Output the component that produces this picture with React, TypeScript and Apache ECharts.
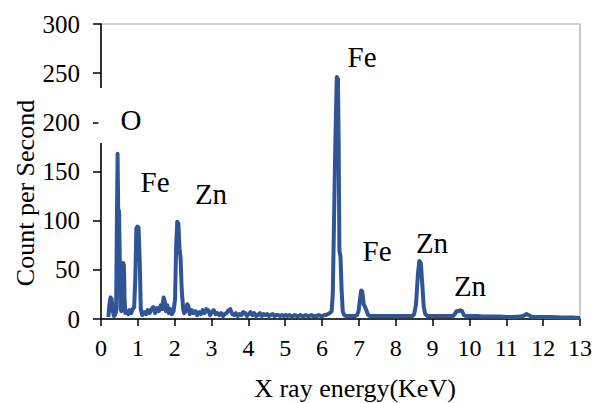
import React, { useEffect, useRef } from "react";
import * as echarts from "echarts";

const energy: number[] = [
  0.2, 0.23, 0.26, 0.29, 0.32, 0.35, 0.38, 0.41, 0.43, 0.45, 0.47, 0.49, 0.51, 0.53, 0.55, 0.58, 0.6, 0.62, 0.64, 0.66,
  0.7, 0.74, 0.78, 0.82, 0.86, 0.9, 0.93, 0.96, 0.99, 1.02, 1.05, 1.08, 1.12, 1.18, 1.22, 1.27, 1.32, 1.37, 1.42, 1.47,
  1.52, 1.57, 1.62, 1.66, 1.7, 1.73, 1.76, 1.8, 1.84, 1.88, 1.92, 1.97, 2.01, 2.04, 2.07, 2.1, 2.13, 2.16, 2.19, 2.23,
  2.26, 2.3, 2.34, 2.37, 2.41, 2.46, 2.51, 2.56, 2.61, 2.66, 2.71, 2.76, 2.81, 2.86, 2.91, 2.96, 3.01, 3.06, 3.11, 3.16,
  3.21, 3.26, 3.31, 3.36, 3.41, 3.46, 3.51, 3.56, 3.61, 3.66, 3.71, 3.76, 3.81, 3.86, 3.91, 3.96, 4.01, 4.06, 4.11, 4.16,
  4.21, 4.26, 4.31, 4.36, 4.41, 4.46, 4.51, 4.56, 4.61, 4.66, 4.71, 4.76, 4.81, 4.86, 4.91, 4.96, 5.01, 5.06, 5.11, 5.16,
  5.21, 5.26, 5.31, 5.36, 5.41, 5.46, 5.51, 5.56, 5.61, 5.66, 5.71, 5.76, 5.81, 5.86, 5.91, 5.96, 6.01, 6.06, 6.11, 6.16,
  6.21, 6.26, 6.29, 6.32, 6.35, 6.38, 6.4, 6.43, 6.45, 6.47, 6.5, 6.53, 6.56, 6.6, 6.65, 6.7, 6.75, 6.8, 6.85, 6.9,
  6.95, 6.99, 7.03, 7.06, 7.09, 7.13, 7.17, 7.2, 7.25, 7.3, 7.4, 7.5, 7.6, 7.7, 7.8, 7.9, 8.0, 8.1, 8.2, 8.3,
  8.4, 8.45, 8.5, 8.55, 8.6, 8.64, 8.68, 8.72, 8.76, 8.8, 8.86, 8.95, 9.05, 9.15, 9.25, 9.35, 9.45, 9.55, 9.6, 9.65,
  9.7, 9.75, 9.8, 9.85, 9.9, 10.0, 10.2, 10.4, 10.6, 10.8, 11.0, 11.2, 11.4, 11.5, 11.55, 11.6, 11.7, 11.9, 12.2, 12.5,
  12.8, 13.0,
];

const counts: number[] = [
  2, 15, 22, 20, 8, 3, 4, 8, 95, 168, 100, 110, 60, 10, 8, 45, 57, 55, 20, 6,
  8, 5, 9, 6, 10, 12, 40, 92, 94, 93, 60, 10, 4, 7, 5, 9, 6, 10, 12, 6,
  11, 8, 14, 10, 22, 18, 8, 14, 6, 10, 5, 8, 20, 75, 99, 97, 72, 62, 30, 10,
  6, 8, 15, 13, 5, 9, 6, 8, 4, 7, 5, 9, 6, 10, 9, 4, 7, 9, 5, 6,
  4, 6, 3, 5, 6, 9, 10, 5, 4, 6, 3, 5, 4, 7, 6, 3, 5, 7, 4, 6,
  3, 4, 6, 3, 5, 4, 5, 3, 4, 5, 3, 4, 4, 3, 4, 3, 4, 3, 4, 3,
  3, 4, 3, 3, 4, 3, 3, 4, 3, 3, 4, 3, 3, 3, 4, 3, 3, 4, 4, 5,
  6, 8, 25, 90, 160, 215, 246, 244, 180, 70, 63, 30, 8, 4, 3, 3, 3, 3, 3, 3,
  4, 8, 20, 29, 28, 15, 12, 9, 4, 3, 3, 3, 3, 3, 3, 3, 3, 3, 3, 3,
  3, 3, 5, 15, 45, 59, 57, 35, 12, 5, 3, 3, 3, 3, 3, 3, 3, 3, 5, 8,
  8, 9, 8, 4, 3, 3, 3, 2.5, 2.5, 2.5, 2, 2, 2.5, 4, 5, 4, 2, 2, 2, 1.5,
  1.5, 1,
];

const yTicks: number[] = [0, 50, 100, 150, 200, 250, 300];
const xTicks: number[] = [0, 1, 2, 3, 4, 5, 6, 7, 8, 9, 10, 11, 12, 13];

const peakLabels: string[] = ["O", "Fe", "Zn", "Fe", "Fe", "Zn", "Zn"];

const FONT = "Times New Roman, Tinos, Liberation Serif, DejaVu Serif, Noto Serif, serif";

export default function App() {
  const ref = useRef<HTMLDivElement>(null);

  useEffect(() => {
    if (!ref.current) return;
    const chart = echarts.init(ref.current, undefined, { renderer: "svg" });
    const labelPos: [number, number][] = [
      [131, 120],
      [155, 182],
      [211, 194],
      [362, 57],
      [377, 251],
      [432, 243],
      [470, 286],
    ];
    const textStyle = (size: number) => ({
      fill: "#000",
      fontSize: size,
      fontFamily: FONT,
      align: "center",
      verticalAlign: "middle",
    });
    chart.setOption({
      animation: false,
      backgroundColor: "#ffffff",
      textStyle: { fontFamily: FONT },
      grid: {
        left: 101,
        top: 24,
        right: 12,
        bottom: 84,
        show: true,
        borderColor: "#a6a6a6",
        borderWidth: 1.2,
        backgroundColor: "transparent",
      },
      xAxis: {
        type: "value",
        min: xTicks[0],
        max: xTicks[xTicks.length - 1],
        interval: 1,
        axisLine: { show: true, lineStyle: { color: "#000", width: 1.5 } },
        axisTick: { show: true, length: 7, lineStyle: { color: "#000", width: 1.5 } },
        splitLine: { show: false },
        axisLabel: { color: "#000", fontSize: 24, fontFamily: FONT, margin: 17 },
      },
      yAxis: {
        type: "value",
        min: yTicks[0],
        max: yTicks[yTicks.length - 1],
        interval: 50,
        axisLine: { show: true, lineStyle: { color: "#000", width: 1.5 } },
        axisTick: { show: true, length: 8, lineStyle: { color: "#000", width: 1.5 } },
        splitLine: { show: false },
        axisLabel: { color: "#000", fontSize: 25, fontFamily: FONT, margin: 21 },
      },
      series: [
        {
          type: "line",
          data: energy.map((e, i) => [e, counts[i]]),
          showSymbol: false,
          smooth: false,
          lineStyle: { color: "#2f5597", width: 4, join: "round" },
          z: 3,
        },
      ],
      graphic: [
        {
          type: "rect",
          shape: { x: 98.5, y: 88, width: 12, height: 55 },
          style: { fill: "#ffffff" },
          z: 100,
        },
        ...peakLabels.map((t, i) => ({
          type: "text",
          x: labelPos[i][0],
          y: labelPos[i][1],
          z: 101,
          style: { text: t, ...textStyle(29) },
        })),
        {
          type: "text",
          x: 355,
          y: 388,
          z: 101,
          style: { text: "X ray energy(KeV)", ...textStyle(26) },
        },
        {
          type: "text",
          x: 25,
          y: 193,
          rotation: Math.PI / 2,
          z: 101,
          style: { text: "Count per Second", ...textStyle(26) },
        },
      ],
    });
    return () => chart.dispose();
  }, []);

  return (
    <div
      ref={ref}
      style={{ position: "fixed", left: 0, top: 0, width: 595, height: 403, background: "#fff" }}
    />
  );
}
